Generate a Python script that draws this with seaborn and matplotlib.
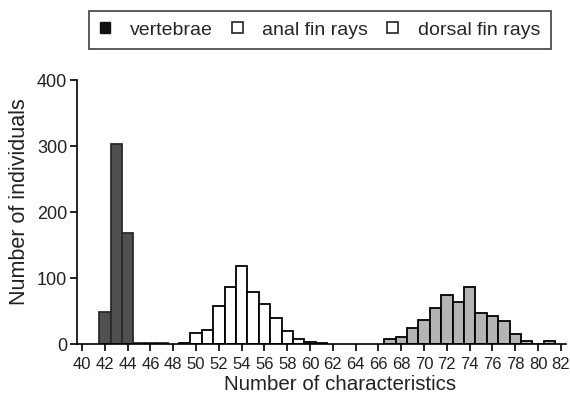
import matplotlib
matplotlib.use("Agg")
import matplotlib.pyplot as plt
import seaborn as sns
import pandas as pd
from matplotlib.patches import Patch

# Data (counts per number of characteristics)
vert_x = [42, 43, 44, 45, 46, 47]
vert_n = [49, 303, 168, 2, 1, 1]
anal_x = [49, 50, 51, 52, 53, 54, 55, 56, 57, 58, 59, 60, 61]
anal_n = [1, 16, 22, 57, 87, 118, 79, 60, 40, 20, 8, 3, 1]
dors_x = [67, 68, 69, 70, 71, 72, 73, 74, 75, 76, 77, 78, 79, 81]
dors_n = [7, 11, 24, 37, 55, 74, 64, 86, 47, 42, 35, 15, 4, 4]
series = ["vertebrae", "anal fin rays", "dorsal fin rays"]
xticks = list(range(40, 83, 2))
yticks = [0, 100, 200, 300, 400]

sns.set_theme(style="ticks")
plt.rcParams['font.family'] = ['Liberation Sans', 'DejaVu Sans']

fig = plt.figure(figsize=(5.7, 3.95), dpi=100)
ax = fig.add_axes([0.135, 0.129, 0.858, 0.668])

styles = {
    "vertebrae": dict(color="#505050", edgecolor="#2a2a2a"),
    "anal fin rays": dict(color="white", edgecolor="black"),
    "dorsal fin rays": dict(color="#b4b4b4", edgecolor="black"),
}
for name, xs, ns in zip(series, [vert_x, anal_x, dors_x], [vert_n, anal_n, dors_n]):
    df = pd.DataFrame({"x": xs, "n": ns})
    sns.histplot(data=df, x="x", weights="n", discrete=True, ax=ax,
                 alpha=1, linewidth=1.3, **styles[name])

ax.set_xlim(39.55, 82.45)
ax.set_ylim(0, 400)
ax.set_xticks(xticks)
ax.set_yticks(yticks)
ax.tick_params(axis="both", length=5, width=1.2, color="black", labelcolor="#222222")
ax.tick_params(axis="x", labelsize=12, pad=4)
ax.tick_params(axis="y", labelsize=13, pad=2)
for s in ["top", "right"]:
    ax.spines[s].set_visible(False)
for s in ["left", "bottom"]:
    ax.spines[s].set_linewidth(1.2)
    ax.spines[s].set_color("black")
ax.set_xlabel("Number of characteristics", fontsize=14.8, color="#222222")
ax.set_ylabel("Number of individuals", fontsize=15.5, color="#222222")
ax.xaxis.set_label_coords(0.538, -0.118)
ax.yaxis.set_label_coords(-0.097, 0.538)

handles = [Patch(facecolor="#111111", edgecolor="#111111"),
           Patch(facecolor="white", edgecolor="#222222", linewidth=1.2),
           Patch(facecolor="white", edgecolor="#222222", linewidth=1.2)]
leg = fig.legend(handles, series, loc="center", bbox_to_anchor=(0.561, 0.924), ncol=3,
                 frameon=True, fancybox=False, edgecolor="#222222", fontsize=14,
                 handlelength=0.55, handleheight=0.55, handletextpad=1.0, columnspacing=1.0,
                 borderpad=0.55, borderaxespad=0)
leg.get_frame().set_linewidth(1.3)

fig.savefig("out.png", dpi=100)
